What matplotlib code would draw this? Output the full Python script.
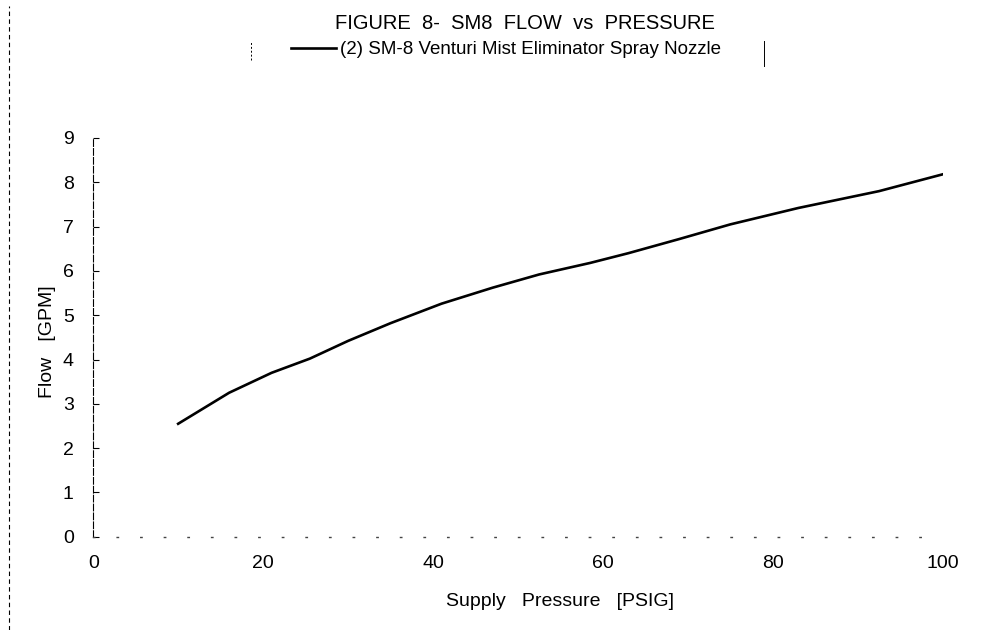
import matplotlib
matplotlib.use("Agg")
import matplotlib.pyplot as plt
from matplotlib.lines import Line2D

# Flow curve
pressure_psig = [10, 16, 21, 25.5, 30, 35, 41, 47, 52.5, 58.5, 63, 69, 75, 83, 92.5, 100]
flow_gpm = [2.55, 3.25, 3.7, 4.02, 4.42, 4.82, 5.26, 5.62, 5.92, 6.18, 6.4, 6.72, 7.05, 7.42, 7.8, 8.18]

x_ticks = [0, 20, 40, 60, 80, 100]
y_ticks = list(range(0, 10))

TITLE = "FIGURE  8-  SM8  FLOW  vs  PRESSURE"
SERIES_LABEL = "(2) SM-8 Venturi Mist Eliminator Spray Nozzle"

plt.rcParams["font.family"] = ["Liberation Sans", "DejaVu Sans"]

fig = plt.figure(figsize=(9.81, 6.30), dpi=100)
ax = fig.add_axes([0.095, 0.148, 0.866, 0.633])

line, = ax.plot(pressure_psig, flow_gpm, color="black", linewidth=1.9,
                solid_joinstyle="round")

ax.set_xlim(0, 100)
ax.set_ylim(0, 9)
ax.set_xticks(x_ticks)
ax.set_yticks(y_ticks)
ax.tick_params(axis="x", length=0, labelsize=14, pad=13, colors="black")
ax.tick_params(axis="y", direction="in", length=4, width=0.8, labelsize=14, pad=14)

ax.set_xlabel("Supply   Pressure   [PSIG]", fontsize=14)
ax.xaxis.set_label_coords(0.549, -0.14)
ax.set_ylabel("Flow   [GPM]", fontsize=14)
ax.yaxis.set_label_coords(-0.044, 0.49)

# scan look: only a thin left axis line, bottom axis is a faint dotted row
for side in ["top", "right"]:
    ax.spines[side].set_visible(False)
ax.spines["left"].set_linewidth(0.8)
ax.spines["left"].set_linestyle((0, (6, 2)))
ax.spines["bottom"].set_linestyle((0, (1, 16)))
ax.spines["bottom"].set_linewidth(1.0)
ax.spines["bottom"].set_color("#444444")

fig.text(0.535, 0.962, TITLE, ha="center", va="center", fontsize=14.5)

leg = fig.legend([line], [SERIES_LABEL], loc="center",
                 bbox_to_anchor=(0.516, 0.921), frameon=False,
                 fontsize=13.5, handlelength=2.4, handletextpad=0.2)

# bracket marks either side of the legend
fig.add_artist(Line2D([0.256, 0.256], [0.905, 0.935], color="black", lw=0.7, linestyle=(0, (2, 2))))
fig.add_artist(Line2D([0.779, 0.779], [0.895, 0.935], color="black", lw=0.7))

# dotted page edge on the left of the scan
fig.add_artist(Line2D([0.009, 0.009], [0.0, 0.99], color="black", lw=0.8, linestyle=(0, (4, 3))))

fig.savefig("out.png", dpi=100)
